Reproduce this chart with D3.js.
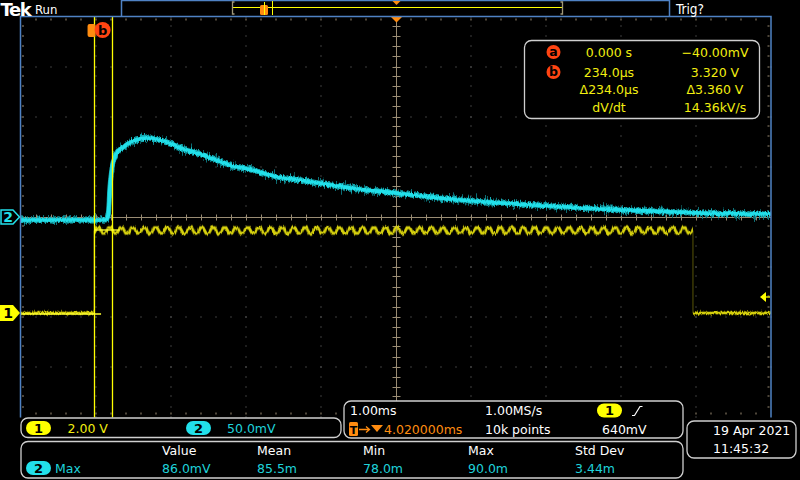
<!DOCTYPE html>
<html><head><meta charset="utf-8">
<script src="https://cdn.jsdelivr.net/npm/d3@7/dist/d3.min.js"></script>
<style>
body{margin:0;background:#000;}
svg{display:block;}
text{font-family:"DejaVu Sans",sans-serif;}
</style>
</head><body>
<svg id="c" width="800" height="480"></svg>
<script>
// ---------- data ----------
const msPerDiv = 1.0;
const horizPosMs = 4.02;          // time at screen centre
const ch1VoltsPerDiv = 2.0;
const ch1PosDiv = -1.93;          // ground marker position (divisions)
const ch2mVPerDiv = 50.0;
const ch2PosDiv = -0.01;
const trigLevelV = 0.64;

// channel 1 (yellow) pulse
const ch1TimeMs = [-0.98, 0.0, 0.0, 7.98, 7.98, 9.02];
const ch1Volts  = [0.0,  0.0, 3.30, 3.30, 0.0, 0.0];
const ch1RipplePeriodMs = 0.153;
const ch1RippleV = 0.22;

// channel 2 (cyan) response
const ch2TimeMs = [-0.98, 0.16, 0.19, 0.21, 0.24, 0.30, 0.39, 0.52, 0.71, 0.88, 1.01, 1.15, 1.37, 1.59, 1.81, 2.04, 2.25, 2.44, 2.74, 3.41, 4.02, 4.74, 5.41, 6.08, 6.74, 7.41, 8.07, 9.02];
const ch2mV     = [-3,   -3,   3,    27,   49,   64,   70,   76,   79,   77,   74,   69,   64,   58,   52,   48,   44,   40,   37,   29,   24,   18,   14,   11,   8,    6,    4,    3];

// cursors
const cursorNames = ["a", "b"];
const cursorTimeMs = [0.0, 0.234];
const cursorVolts = [-0.040, 3.320];
const readLeft = ["0.000 s", "234.0\u00b5s", "\u0394234.0\u00b5s", "dV/dt"];
const readRight = ["\u221240.00mV", "3.320 V", "\u03943.360 V", "14.36kV/s"];

// measurement table
const measHeaders = ["Value", "Mean", "Min", "Max", "Std Dev"];
const measValues = ["86.0mV", "85.5m", "78.0m", "90.0m", "3.44m"];

// ---------- scales ----------
const P = {left: 20.5, right: 771, top: 16.5, bottom: 416.5};
const xDiv = d3.scaleLinear().domain([-5, 5]).range([P.left, P.right]);
const yDiv = d3.scaleLinear().domain([-4, 4]).range([P.bottom, P.top]);
const xT = d3.scaleLinear().domain([horizPosMs - 5 * msPerDiv, horizPosMs + 5 * msPerDiv]).range([P.left, P.right]);
const y1 = d3.scaleLinear().domain([(-4 - ch1PosDiv) * ch1VoltsPerDiv, (4 - ch1PosDiv) * ch1VoltsPerDiv]).range([P.bottom, P.top]);
const y2 = d3.scaleLinear().domain([(-4 - ch2PosDiv) * ch2mVPerDiv, (4 - ch2PosDiv) * ch2mVPerDiv]).range([P.bottom, P.top]);

const YEL = "#f2ee10", CYA = "#22e0ea", CYT = "#1fd2da", ORG = "#ff8c10", RED = "#ff4412";
const BLUE = "#4f82c4", BOX = "#cfcfcf", TAN = "#9a8c74", DOT = "#7a7a7a";

const svg = d3.select("#c");
svg.append("rect").attr("width", 800).attr("height", 480).attr("fill", "#000");
const defs = svg.append("defs");

// vertical-jitter filters (visual texture only)
function jitter(id, freq, scale, seed) {
  const f = defs.append("filter").attr("id", id).attr("filterUnits", "userSpaceOnUse")
    .attr("x", 0).attr("y", 0).attr("width", 800).attr("height", 480);
  f.append("feTurbulence").attr("type", "fractalNoise").attr("baseFrequency", freq).attr("numOctaves", 2).attr("seed", seed).attr("result", "t");
  f.append("feColorMatrix").attr("in", "t").attr("type", "matrix")
    .attr("values", "0 0 0 0 0.5  0 1 0 0 0  0 0 1 0 0  0 0 0 0 1").attr("result", "m");
  f.append("feDisplacementMap").attr("in", "SourceGraphic").attr("in2", "m").attr("scale", scale)
    .attr("xChannelSelector", "R").attr("yChannelSelector", "G");
}
jitter("jw", "0.9 0.08", 16, 3);
jitter("jm", "0.7 0.1", 8, 7);
jitter("js", "0.8 0.1", 4, 11);

// ---------- graticule ----------
const g = svg.append("g");
for (let d = -4; d <= 4; d++) {
  if (d === 0) continue;
  for (let k = 0; k <= 40; k++) {
    g.append("rect").attr("x", Math.round(xDiv(d)) - 0.5).attr("y", Math.round(yDiv(-4 + k * 0.2)) - 0.5)
      .attr("width", 1).attr("height", 1).attr("fill", DOT);
  }
}
for (let d = -3; d <= 3; d++) {
  if (d === 0) continue;
  for (let k = 0; k <= 50; k++) {
    g.append("rect").attr("x", Math.round(xDiv(-5 + k * 0.2)) - 0.5).attr("y", Math.round(yDiv(d)) - 0.5)
      .attr("width", 1).attr("height", 1).attr("fill", DOT);
  }
}
for (let k = 1; k < 50; k++) {
  const x = Math.round(xDiv(-5 + k * 0.2));
  g.append("rect").attr("x", x - 0.5).attr("y", P.top + 2).attr("width", 1).attr("height", 2).attr("fill", TAN);
  g.append("rect").attr("x", x - 0.5).attr("y", P.bottom - 4).attr("width", 1).attr("height", 2).attr("fill", TAN);
}
for (let k = 1; k < 40; k++) {
  const y = Math.round(yDiv(-4 + k * 0.2));
  g.append("rect").attr("x", P.left + 1.5).attr("y", y - 0.5).attr("width", 2).attr("height", 1).attr("fill", TAN);
  g.append("rect").attr("x", P.right - 3.5).attr("y", y - 0.5).attr("width", 2).attr("height", 1).attr("fill", TAN);
}
const cx = Math.round(xDiv(0)) + 0.5, cy = Math.round(yDiv(0)) + 0.5;
g.append("line").attr("x1", P.left).attr("x2", P.right).attr("y1", cy).attr("y2", cy).attr("stroke", TAN).attr("stroke-width", 1);
g.append("line").attr("x1", cx).attr("x2", cx).attr("y1", P.top).attr("y2", P.bottom).attr("stroke", TAN).attr("stroke-width", 1);
for (let k = 1; k < 50; k++) {
  const x = Math.round(xDiv(-5 + k * 0.2)) + 0.5;
  g.append("line").attr("x1", x).attr("x2", x).attr("y1", cy - 3).attr("y2", cy + 3).attr("stroke", TAN).attr("stroke-width", 1);
}
for (let k = 1; k < 40; k++) {
  const y = Math.round(yDiv(-4 + k * 0.2)) + 0.5;
  g.append("line").attr("x1", cx - 4).attr("x2", cx + 4).attr("y1", y).attr("y2", y).attr("stroke", TAN).attr("stroke-width", 1);
}

// ---------- channel 1 trace ----------
const ch1 = ch1TimeMs.map((t, i) => ({t, v: ch1Volts[i]}));
const tr = svg.append("g");
const l1 = d3.line().x(d => xT(d.t)).y(d => y1(d.v));
[ch1.slice(0, 2), ch1.slice(4, 6)].forEach(seg => {
  tr.append("path").attr("d", l1(seg)).attr("fill", "none").attr("stroke", "#7c7600").attr("stroke-width", 2.5).attr("filter", "url(#jm)");
  tr.append("path").attr("d", l1(seg)).attr("fill", "none").attr("stroke", "#d4ce0a").attr("stroke-width", 2.5).attr("filter", "url(#js)");
});
tr.append("path").attr("d", l1(ch1.slice(1, 3))).attr("fill", "none").attr("stroke", "#6a6608").attr("stroke-width", 1);
tr.append("path").attr("d", l1(ch1.slice(3, 5))).attr("fill", "none").attr("stroke", "#4a4806").attr("stroke-width", 1.2);
const pPx = xT(ch1RipplePeriodMs) - xT(0);
const rPx = Math.abs(y1(ch1RippleV) - y1(0));
const hiY = y1(ch1[2].v);
const pat = defs.append("pattern").attr("id", "saw").attr("patternUnits", "userSpaceOnUse")
  .attr("x", xT(ch1[2].t)).attr("y", hiY - 7).attr("width", pPx).attr("height", 14);
pat.append("path").attr("d", `M0,${7 + rPx / 2} L${pPx * 0.25},${7 - rPx / 2} L${pPx * 0.5},${7 - rPx / 2} L${pPx * 0.75},${7 + rPx / 2} L${pPx},${7 + rPx / 2}`)
  .attr("fill", "none").attr("stroke", "#d8d20c").attr("stroke-width", 2.8);
tr.append("rect").attr("x", xT(ch1[2].t)).attr("y", hiY - 7).attr("width", xT(ch1[3].t) - xT(ch1[2].t)).attr("height", 14)
  .attr("fill", "url(#saw)").attr("filter", "url(#js)");

// ---------- channel 2 trace ----------
const ch2 = ch2TimeMs.map((t, i) => ({t, v: ch2mV[i]}));
const l2 = d3.line().x(d => xT(d.t)).y(d => y2(d.v)).curve(d3.curveMonotoneX);
tr.append("path").attr("d", l2(ch2)).attr("fill", "none").attr("stroke", "#0b6e74").attr("stroke-width", 4).attr("filter", "url(#jw)");
tr.append("path").attr("d", l2(ch2)).attr("fill", "none").attr("stroke", "#12aab2").attr("stroke-width", 5).attr("filter", "url(#jm)");
tr.append("path").attr("d", l2(ch2)).attr("fill", "none").attr("stroke", CYA).attr("stroke-width", 3.6).attr("filter", "url(#js)");

// ---------- cursors ----------
const cg = svg.append("g");
cursorTimeMs.forEach(t => {
  const x = Math.round(xT(t)) + 0.5;
  cg.append("line").attr("x1", x).attr("x2", x).attr("y1", P.top).attr("y2", P.bottom + 1).attr("stroke", "#ffff00").attr("stroke-width", 1.3);
});
cg.append("line").attr("x1", P.left).attr("x2", xT(cursorTimeMs[0]) + 7).attr("y1", y1(cursorVolts[0])).attr("y2", y1(cursorVolts[0])).attr("stroke", "#ffff30").attr("stroke-width", 1.3);
cg.append("line").attr("x1", xT(cursorTimeMs[1]) - 17).attr("x2", xT(cursorTimeMs[1]) + 8).attr("y1", y1(cursorVolts[1])).attr("y2", y1(cursorVolts[1])).attr("stroke", "#ffff30").attr("stroke-width", 1.3);
cg.append("rect").attr("x", xT(cursorTimeMs[0]) - 6.5).attr("y", 24).attr("width", 8).attr("height", 13).attr("rx", 2).attr("fill", ORG);
cg.append("circle").attr("cx", xT(cursorTimeMs[1]) - 9).attr("cy", 30).attr("r", 8).attr("fill", RED);
cg.append("text").attr("x", xT(cursorTimeMs[1]) - 9).attr("y", 34.5).attr("text-anchor", "middle").attr("font-size", 13).attr("font-weight", "bold").attr("fill", "#000").text(cursorNames[1]);

// trigger markers
svg.append("path").attr("d", `M${cx - 6},${P.top} L${cx + 6},${P.top} L${cx},${P.top + 6} Z`).attr("fill", ORG);
const ty = y1(trigLevelV);
svg.append("path").attr("d", `M${P.right - 11},${ty} L${P.right - 5},${ty - 5} L${P.right - 5},${ty + 5} Z`).attr("fill", "#ffff00");
svg.append("line").attr("x1", P.right - 6).attr("x2", P.right - 1).attr("y1", ty).attr("y2", ty).attr("stroke", "#ffff00").attr("stroke-width", 1.3);

// plot border
svg.append("path").attr("d", `M${P.left},${P.bottom + 1} L${P.left},${P.top} L${P.right},${P.top} L${P.right},${P.bottom + 1}`)
  .attr("fill", "none").attr("stroke", BLUE).attr("stroke-width", 1.5);

// channel ground markers
const m2y = y2(0), m1y = y1(0);
svg.append("path").attr("d", `M1,${m2y - 7} L13,${m2y - 7} L19.5,${m2y} L13,${m2y + 7} L1,${m2y + 7} Z`).attr("fill", "#000").attr("stroke", CYA).attr("stroke-width", 1.5);
svg.append("text").attr("x", 8).attr("y", m2y + 5).attr("text-anchor", "middle").attr("font-size", 14).attr("font-weight", "bold").attr("fill", CYA).text("2");
svg.append("path").attr("d", `M0,${m1y - 8} L13,${m1y - 8} L20,${m1y} L13,${m1y + 8} L0,${m1y + 8} Z`).attr("fill", "#ffff00");
svg.append("text").attr("x", 8).attr("y", m1y + 5).attr("text-anchor", "middle").attr("font-size", 14).attr("font-weight", "bold").attr("fill", "#000").text("1");

// ---------- top bar ----------
svg.append("text").attr("x", 0.5).attr("y", 16).attr("font-family", "DejaVu Serif").attr("font-weight", "bold").attr("font-size", 18).attr("fill", "#fff").attr("letter-spacing", -1.4).text("Tek");
svg.append("text").attr("x", 35).attr("y", 13.5).attr("font-size", 13).attr("fill", "#fff").attr("font-stretch", "condensed").text("Run");
svg.append("text").attr("x", 676).attr("y", 14).attr("font-size", 13.5).attr("fill", "#fff").attr("font-stretch", "condensed").text("Trig?");
svg.append("path").attr("d", "M121.5,0 L121.5,16.5 M669.5,0 L669.5,16.5 M121.5,0.5 L669.5,0.5").attr("stroke", BLUE).attr("stroke-width", 1.5).attr("fill", "none");
svg.append("line").attr("x1", 233).attr("x2", 562).attr("y1", 7.5).attr("y2", 7.5).attr("stroke", "#ffff00").attr("stroke-width", 1.2);
svg.append("path").attr("d", "M234.5,2 L232.5,2 L232.5,14 L234.5,14 M560.5,2 L562.5,2 L562.5,14 L560.5,14").attr("fill", "none").attr("stroke", "#a09878").attr("stroke-width", 1.3);
svg.append("rect").attr("x", 260).attr("y", 5).attr("width", 8).attr("height", 10).attr("rx", 1.5).attr("fill", ORG);
svg.append("line").attr("x1", 264.5).attr("x2", 264.5).attr("y1", 2).attr("y2", 15).attr("stroke", "#ffff00").attr("stroke-width", 1);
svg.append("line").attr("x1", 272.5).attr("x2", 272.5).attr("y1", 1).attr("y2", 15).attr("stroke", "#ffff00").attr("stroke-width", 1);
svg.append("path").attr("d", `M${cx - 4},1 L${cx + 4},1 L${cx},5 Z`).attr("fill", ORG);

// ---------- cursor readout ----------
const rb = svg.append("g");
rb.append("rect").attr("x", 524.5).attr("y", 40.5).attr("width", 235).attr("height", 78).attr("rx", 7).attr("fill", "#000").attr("stroke", BOX).attr("stroke-width", 1.3);
const rowY = [52, 72, 89, 107];
readLeft.forEach((s, i) => {
  rb.append("text").attr("x", 609).attr("y", rowY[i] + 4.5).attr("text-anchor", "middle").attr("font-size", 12.5).attr("fill", YEL).text(s);
  rb.append("text").attr("x", 715).attr("y", rowY[i] + 4.5).attr("text-anchor", "middle").attr("font-size", 12.5).attr("fill", YEL).text(readRight[i]);
});
cursorNames.forEach((n, i) => {
  rb.append("circle").attr("cx", 553.5).attr("cy", rowY[i]).attr("r", 7).attr("fill", RED);
  rb.append("text").attr("x", 553.5).attr("y", rowY[i] + 4.3).attr("text-anchor", "middle").attr("font-size", 12.5).attr("font-weight", "bold").attr("fill", "#000").text(n);
});

// ---------- bottom boxes ----------
function box(x, y, w, h) {
  svg.append("rect").attr("x", x).attr("y", y).attr("width", w).attr("height", h).attr("rx", 7).attr("fill", "#000").attr("stroke", BOX).attr("stroke-width", 1.3);
}
function pill(x, yc, fill, label) {
  svg.append("rect").attr("x", x).attr("y", yc - 7).attr("width", 25).attr("height", 14).attr("rx", 7).attr("fill", fill);
  svg.append("text").attr("x", x + 12.5).attr("y", yc + 4.6).attr("text-anchor", "middle").attr("font-size", 13).attr("font-weight", "bold").attr("fill", "#000").text(label);
}
function txt(x, yc, s, col, anchor) {
  svg.append("text").attr("x", x).attr("y", yc + 4.5).attr("text-anchor", anchor || "start").attr("font-size", 12.5).attr("fill", col).text(s);
}
box(21, 418, 320, 19.5);
pill(26, 428, "#ffff00", "1");
txt(67.5, 428, ch1VoltsPerDiv.toFixed(2) + " V", YEL);
pill(186, 428, CYA, "2");
txt(227, 428, ch2mVPerDiv.toFixed(1) + "mV", CYT);
box(344, 401, 339, 37);
txt(350, 410.5, msPerDiv.toFixed(2) + "ms", "#fff");
txt(485, 410.5, "1.00MS/s", "#fff");
pill(597, 410.5, "#ffff00", "1");
svg.append("path").attr("d", "M632,415.5 L634.5,415.5 L640,406.5 L642.5,406.5").attr("fill", "none").attr("stroke", "#fff").attr("stroke-width", 1.2);
svg.append("rect").attr("x", 349).attr("y", 422).attr("width", 9).attr("height", 14).attr("rx", 1.5).attr("fill", ORG);
svg.append("text").attr("x", 353.5).attr("y", 433.5).attr("text-anchor", "middle").attr("font-size", 11).attr("font-weight", "bold").attr("fill", "#000").text("T");
svg.append("path").attr("d", "M359,429.5 L369,429.5 M366,426.5 L369.5,429.5 L366,432.5").attr("fill", "none").attr("stroke", ORG).attr("stroke-width", 1.3);
svg.append("path").attr("d", "M371,425 L383,425 L377,432 Z").attr("fill", ORG);
txt(384, 429, horizPosMs.toFixed(6) + "ms", ORG);
txt(485, 429, "10k points", "#fff");
txt(602, 429, (trigLevelV * 1000).toFixed(0) + "mV", "#fff");
box(21, 441.5, 662, 36.5);
const measX = [162, 257, 363, 468, 575];
measHeaders.forEach((h, i) => {
  txt(measX[i], 450.5, h, "#fff");
  txt(measX[i], 468.5, measValues[i], CYT);
});
pill(26, 468, CYA, "2");
txt(55, 468.5, "Max", CYT);
box(687, 421, 109, 37);
txt(713, 430, "19 Apr  2021", "#fff");
txt(713, 448, "11:45:32", "#fff");
</script>
</body></html>
